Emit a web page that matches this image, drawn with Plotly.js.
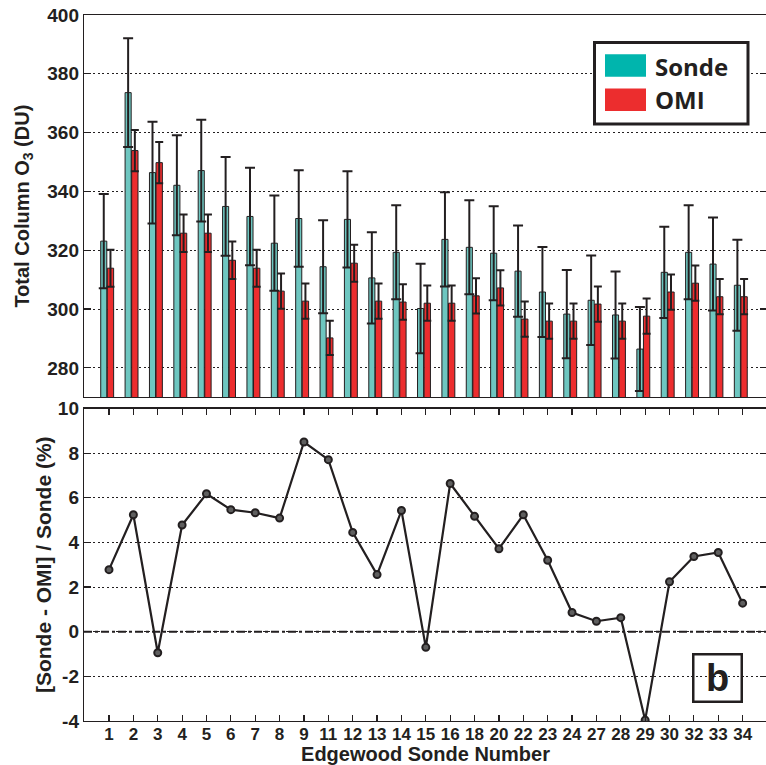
<!DOCTYPE html>
<html>
<head>
<meta charset="utf-8">
<script src="https://cdn.plot.ly/plotly-3.0.1.min.js"></script>
<style>
html, body { margin: 0; padding: 0; overflow: hidden; background: #fff; }
#chart { width: 767px; height: 765px; }
</style>
</head>
<body>
<div id="chart"></div>
<script>
// ---- data ----
const sondeNumbers = ['1','2','3','4','5','6','7','8','9','11','12','13','14','15','16','18','20','22','23','24','27','28','29','30','32','33','34'];
const sondeO3 = [323.1, 373.6, 346.4, 342.1, 347.1, 334.9, 331.5, 322.4, 330.8, 314.4, 330.5, 310.6, 319.3, 300.2, 323.7, 321.0, 319.0, 312.9, 305.8, 298.3, 303.0, 298.0, 286.4, 312.5, 319.3, 315.3, 308.1];
const sondeErr = [16.0, 18.5, 17.3, 17.0, 17.3, 16.8, 16.6, 16.2, 16.4, 15.8, 16.4, 15.5, 16.0, 15.2, 16.0, 16.0, 16.0, 15.5, 15.3, 15.0, 15.2, 14.8, 14.3, 15.5, 16.0, 15.8, 15.5];
const omiO3 = [313.9, 353.9, 349.8, 325.8, 325.8, 316.6, 313.9, 306.1, 302.7, 290.2, 315.6, 302.7, 302.4, 302.0, 302.0, 304.5, 307.2, 296.6, 295.9, 295.9, 301.7, 295.9, 297.6, 305.8, 308.8, 304.2, 304.2];
const omiErr = [6.3, 7.0, 7.0, 6.4, 6.4, 6.4, 6.3, 6.0, 6.0, 5.8, 6.3, 6.0, 6.0, 6.0, 6.0, 6.0, 6.0, 6.0, 6.0, 6.0, 6.0, 6.0, 6.0, 6.0, 6.0, 6.0, 6.0];
const diffPct = [2.78, 5.24, -0.94, 4.78, 6.18, 5.47, 5.33, 5.09, 8.50, 7.71, 4.45, 2.56, 5.43, -0.70, 6.64, 5.17, 3.72, 5.24, 3.20, 0.86, 0.47, 0.63, -3.96, 2.24, 3.37, 3.55, 1.28];
const topTicks = [280, 300, 320, 340, 360, 380, 400];
const botTicks = [-4, -2, 0, 2, 4, 6, 8, 10];
const botTickText = ['-4', '-2', '0', '2', '4', '6', '8', '10'];
const seriesNames = ['Sonde', 'OMI'];
const panelLabel = 'b';

// ---- styling ----
const INK = '#231F20';
const TEAL = 'rgb(110,198,192)';
const TEAL_LEG = 'rgb(0,181,173)';
const RED = 'rgb(236,45,46)';
const FONT = 'Liberation Sans, Arial, Helvetica, sans-serif';
const GRIDDASH = '2px,2.6px';

// pixel -> paper helpers for the decorative legend / panel label
const W = 767, H = 765, ML = 84, MR = 0, MT = 15, MB = 44;
const PW = W - ML - MR, PH = H - MT - MB;
const px = v => (v - ML) / PW;
const py = v => (H - MB - v) / PH;

const traces = [
  {
    type: 'bar', name: seriesNames[0], x: sondeNumbers, y: sondeO3,
    xaxis: 'x', yaxis: 'y', width: 0.25, offset: -0.34,
    marker: { color: TEAL, line: { color: INK, width: 1 } },
    error_y: { type: 'data', array: sondeErr, visible: true, color: INK, thickness: 2, width: 5 },
    showlegend: false, hoverinfo: 'x+y'
  },
  {
    type: 'bar', name: seriesNames[1], x: sondeNumbers, y: omiO3,
    xaxis: 'x', yaxis: 'y', width: 0.26, offset: -0.07,
    marker: { color: RED, line: { color: INK, width: 1 } },
    error_y: { type: 'data', array: omiErr, visible: true, color: INK, thickness: 2, width: 4 },
    showlegend: false, hoverinfo: 'x+y'
  },
  {
    type: 'scatter', mode: 'lines+markers', x: sondeNumbers, y: diffPct,
    xaxis: 'x2', yaxis: 'y2',
    line: { color: INK, width: 2.2 },
    marker: { symbol: 'circle', size: 7, color: 'rgb(95,95,95)', line: { color: INK, width: 2 } },
    showlegend: false
  }
];

const xRange = [-1.026, 27.0];
const titleFont = { family: FONT, size: 20, color: INK, weight: 'bold' };

const layout = {
  width: W, height: H,
  margin: { l: ML, r: MR, t: MT, b: MB, pad: 0 },
  paper_bgcolor: '#fff', plot_bgcolor: '#fff',
  barmode: 'overlay',
  showlegend: false,
  xaxis: {
    domain: [0, 1], anchor: 'y', type: 'category', range: xRange,
    showticklabels: false, ticks: '', showgrid: false, zeroline: false,
    showline: true, mirror: true, linecolor: INK, linewidth: 1.2, automargin: false
  },
  yaxis: {
    domain: [0.4585, 1], anchor: 'x', range: [270, 400],
    tickvals: topTicks, ticks: 'inside', ticklen: 7, tickwidth: 1.2, tickcolor: INK,
    showline: true, mirror: 'ticks', linecolor: INK, linewidth: 1.2,
    showgrid: true, gridcolor: INK, gridwidth: 1, griddash: GRIDDASH, zeroline: false,
    tickfont: { family: FONT, size: 19, color: INK, weight: 'bold' },
    title: { text: 'Total Column O<sub>3</sub> (DU)', font: titleFont, standoff: 12 },
    automargin: false
  },
  xaxis2: {
    domain: [0, 1], anchor: 'y2', type: 'category', range: xRange,
    ticks: 'inside', ticklen: 6, tickwidth: 1.2, tickcolor: INK,
    showline: true, mirror: 'ticks', linecolor: INK, linewidth: 1.2,
    showgrid: false, zeroline: false, ticklabelstandoff: -3,
    tickfont: { family: FONT, size: 17, color: INK, weight: 'bold' },
    title: { text: 'Edgewood Sonde Number', font: { family: FONT, size: 20, color: INK, weight: 'bold' }, standoff: 5 },
    automargin: false
  },
  yaxis2: {
    domain: [0, 0.4426], anchor: 'x2', range: [-4, 10],
    tickvals: botTicks, ticktext: botTickText,
    ticks: 'inside', ticklen: 7, tickwidth: 1.2, tickcolor: INK,
    showline: true, mirror: 'ticks', linecolor: INK, linewidth: 1.2,
    showgrid: true, gridcolor: INK, gridwidth: 1, griddash: GRIDDASH, zeroline: false,
    tickfont: { family: FONT, size: 19, color: INK, weight: 'bold' },
    title: { text: '[Sonde - OMI] / Sonde (%)', font: { family: FONT, size: 21, color: INK, weight: 'bold' }, standoff: 0 },
    automargin: false
  },
  shapes: [
    // zero reference line in panel b
    { type: 'line', xref: 'x2 domain', yref: 'y2', x0: 0, x1: 1, y0: 0, y1: 0,
      line: { color: INK, width: 2, dash: '8px,3px,3px,3px' }, layer: 'below' },
    // legend box
    { type: 'rect', xref: 'paper', yref: 'paper', x0: px(594.5), x1: px(748), y0: py(124), y1: py(42.5),
      line: { color: INK, width: 3 }, fillcolor: '#fff', layer: 'above' },
    { type: 'rect', xref: 'paper', yref: 'paper', x0: px(605), x1: px(646), y0: py(76.7), y1: py(54.3),
      line: { width: 0 }, fillcolor: TEAL_LEG, layer: 'above' },
    { type: 'rect', xref: 'paper', yref: 'paper', x0: px(605), x1: px(646), y0: py(111), y1: py(88.5),
      line: { width: 0 }, fillcolor: RED, layer: 'above' }
  ],
  annotations: [
    { xref: 'paper', yref: 'paper', x: px(653), y: py(66), xanchor: 'left', yanchor: 'middle',
      text: seriesNames[0], showarrow: false,
      font: { family: 'Open Sans, sans-serif', size: 24, color: INK, weight: 'bold' } },
    { xref: 'paper', yref: 'paper', x: px(653), y: py(100), xanchor: 'left', yanchor: 'middle',
      text: seriesNames[1], showarrow: false,
      font: { family: 'Open Sans, sans-serif', size: 24, color: INK, weight: 'bold' } },
    { xref: 'paper', yref: 'paper', x: px(717.5), y: py(678.4), xanchor: 'center', yanchor: 'middle',
      text: panelLabel, showarrow: false, width: 44, height: 43, borderpad: 1,
      bordercolor: INK, borderwidth: 2.5, bgcolor: 'rgba(0,0,0,0)',
      font: { family: FONT, size: 38, color: INK, weight: 'bold' } }
  ]
};

Plotly.newPlot('chart', traces, layout, { displayModeBar: false, staticPlot: true });
</script>
</body>
</html>
